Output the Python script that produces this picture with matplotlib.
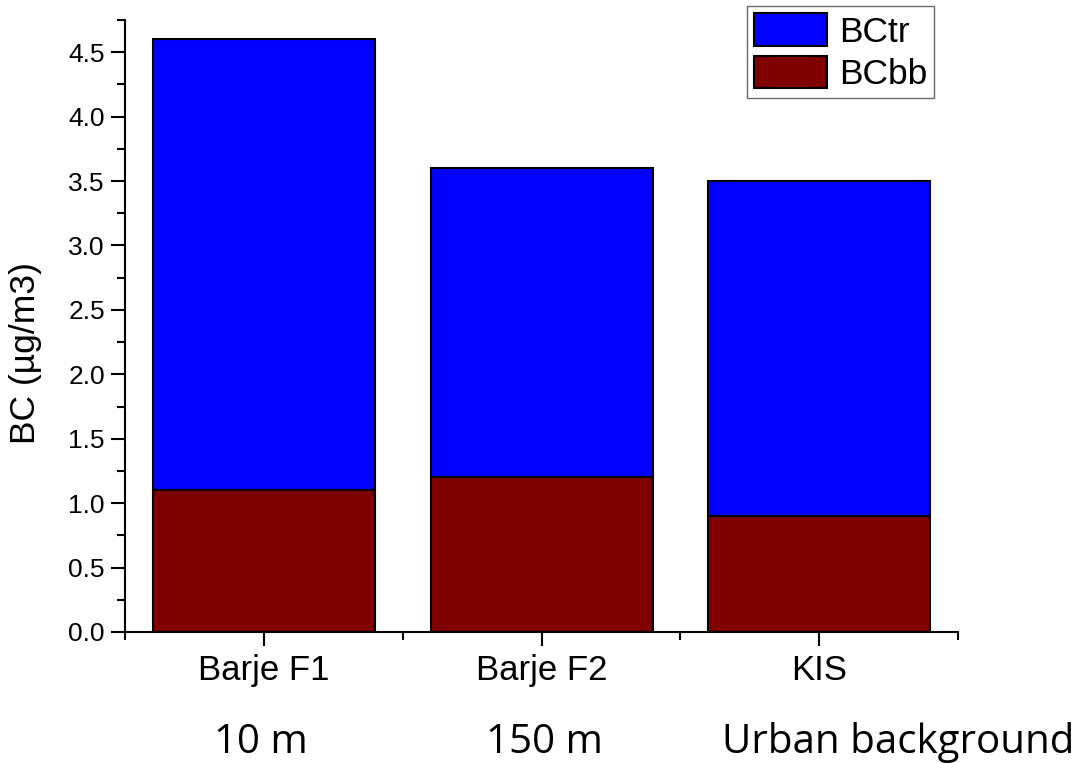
import matplotlib
matplotlib.use("Agg")
import matplotlib.pyplot as plt
from matplotlib.ticker import MultipleLocator, FixedLocator, FormatStrFormatter
import matplotlib.transforms as mtransforms

categories = ["Barje F1", "Barje F2", "KIS"]
bc_bb = [1.1, 1.2, 0.9]
bc_tr = [3.5, 2.4, 2.6]
distance_labels = ["10 m", "150 m", "Urban background"]
distance_x = [0.99, 2.01, 3.285]

plt.rcParams['font.family'] = ['Liberation Sans', 'DejaVu Sans']

fig = plt.figure(figsize=(10.88, 7.63), dpi=100)
ax = fig.add_axes([0.115, 0.1717, 0.7655, 0.8021])

x = [1, 2, 3]
ax.bar(x, bc_bb, width=0.8, color='#800000', edgecolor='black', linewidth=1.5, label='BCbb')
ax.bar(x, bc_tr, width=0.8, bottom=bc_bb, color='#0000FF', edgecolor='black', linewidth=1.5, label='BCtr')

ax.set_xlim(0.5, 3.5)
ax.set_ylim(0, 4.75)
ax.set_xticks(x)
ax.set_xticklabels(categories)
ax.xaxis.set_minor_locator(FixedLocator([0.5, 1.5, 2.5, 3.5]))
ax.yaxis.set_major_locator(MultipleLocator(0.5))
ax.yaxis.set_minor_locator(MultipleLocator(0.25))
ax.yaxis.set_major_formatter(FormatStrFormatter('%.1f'))

for s in ['top', 'right']:
    ax.spines[s].set_visible(False)
for s in ['left', 'bottom']:
    ax.spines[s].set_linewidth(1.5)

ax.tick_params(axis='both', which='major', length=10, width=1.5, direction='out')
ax.tick_params(axis='both', which='minor', length=6, width=1.5, direction='out')
ax.tick_params(axis='y', which='major', labelsize=19, pad=4.5)
ax.tick_params(axis='x', which='major', labelsize=25, pad=6)

ax.set_ylabel('BC (µg/m3)', fontsize=25.5)
ax.yaxis.set_label_coords(-0.1, 0.456)

handles, labels = ax.get_legend_handles_labels()
leg = ax.legend(handles[::-1], labels[::-1], loc='upper right', bbox_to_anchor=(0.9715, 1.023),
                fontsize=25.5, frameon=True, fancybox=False, edgecolor='#444444',
                handlelength=2.06, handleheight=1.05, handletextpad=0.33, borderpad=0.2,
                labelspacing=0.2, borderaxespad=0)
leg.get_frame().set_linewidth(1.0)

trans = mtransforms.blended_transform_factory(ax.transData, ax.transAxes)
for xi, lab in zip(distance_x, distance_labels):
    ax.text(xi, -0.197, lab, transform=trans, ha='center', va='baseline',
            fontsize=29, family=['Open Sans', 'DejaVu Sans'], clip_on=False)

fig.savefig('out.png', dpi=100)
